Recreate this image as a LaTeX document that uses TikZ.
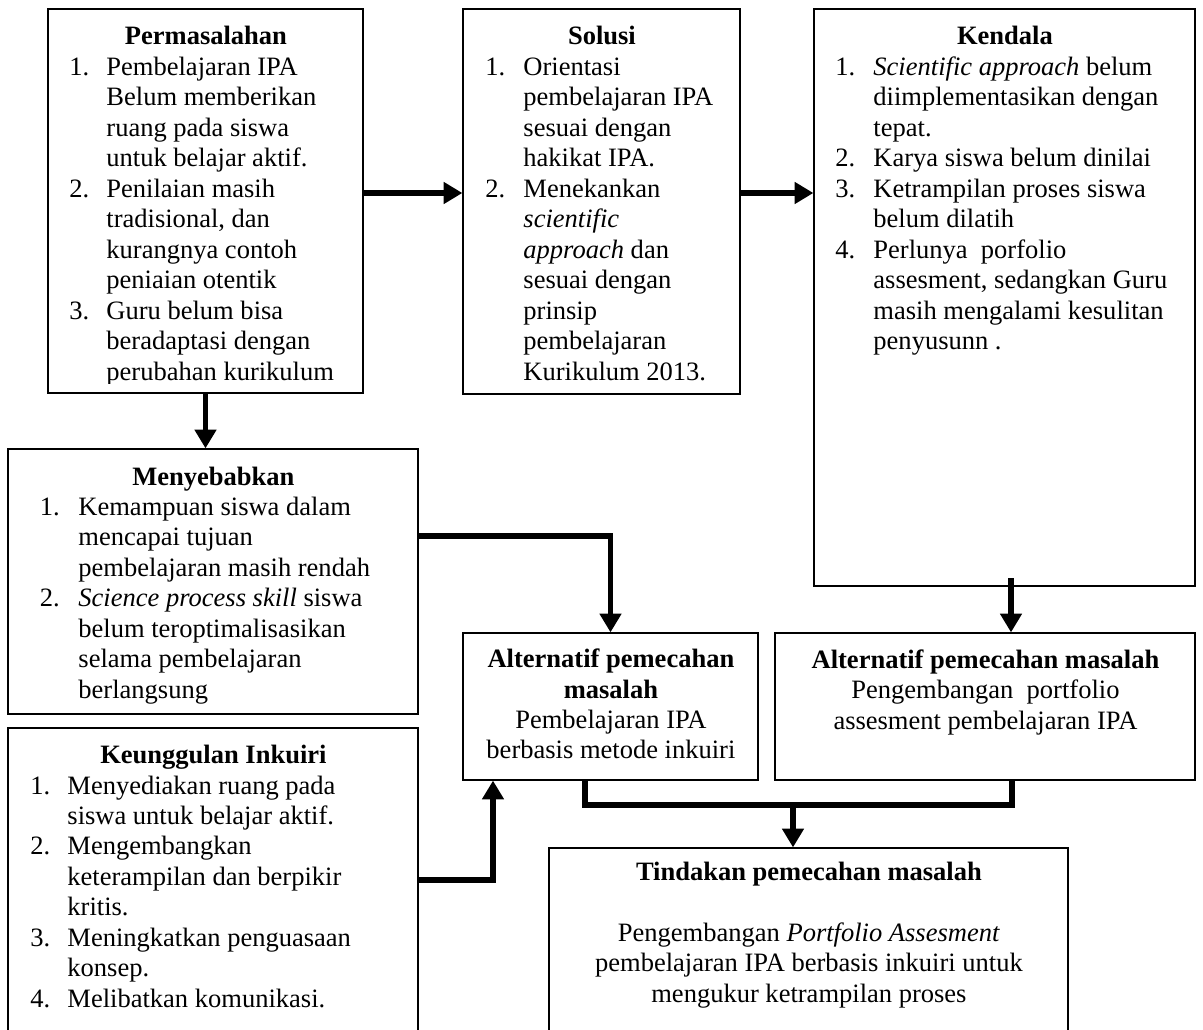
\documentclass[tikz,border=0pt]{standalone}
\usepackage{fontspec}
\setmainfont{Liberation Serif}
\usetikzlibrary{arrows.meta,fit,calc}

% one drawing unit = one pixel of the layout grid
\newlength\pxu \setlength\pxu{0.4525pt}
\newlength\numx \newlength\txtx
% numbered line, continuation line and centred bold heading
\newcommand\numln[2]{\hspace*{\numx}\makebox[\dimexpr\txtx-\numx\relax][l]{#1}#2\par}
\newcommand\conln[1]{\hspace*{\txtx}#1\par}
\newcommand\headln[1]{\makebox[\linewidth]{\bfseries #1}\par}

\tikzset{
  frame/.style={draw=black, line width=0.55pt, inner sep=0pt},
  body/.style={anchor=base west, inner sep=0pt, font=\fontsize{12}{13.8}\selectfont},
  link/.style={line width=2.7pt, line join=miter, -{Triangle[width=9.5pt,length=8.5pt]}},
  plainlink/.style={line width=2.7pt, line join=miter},
}

\begin{document}
\begin{tikzpicture}[x=0.4525pt, y=-0.4525pt]
\useasboundingbox (0,0) rectangle (1203,1030);
\clip (0,0) rectangle (1203,1030);

% ---- boxes ----
\node[frame, fit={(48,9) (363,393)}]    (perm) {};
\node[frame, fit={(463,9) (740,394)}]   (sol)  {};
\node[frame, fit={(814,9) (1195,586)}]  (kend) {};
\node[frame, fit={(8,449) (418,714)}]   (meny) {};
\node[frame, fit={(8,728) (418,1045)}]  (keun) {};
\node[frame, fit={(463,633) (758,780)}] (altL) {};
\node[frame, fit={(775,633) (1195,780)}] (altR) {};
\node[frame, fit={(549,848) (1068,1045)}] (tind) {};

% ---- texts ----
\begin{scope}
\clip (48,9) rectangle (363,383);
\node[body] (permT) at (48,45) {\parbox[t]{315\pxu}{%
  \setlength\numx{21\pxu}\setlength\txtx{58\pxu}%
  \headln{Permasalahan}
  \numln{1.}{Pembelajaran IPA}
  \conln{Belum memberikan}
  \conln{ruang pada siswa}
  \conln{untuk belajar aktif.}
  \numln{2.}{Penilaian masih}
  \conln{tradisional, dan}
  \conln{kurangnya contoh}
  \conln{peniaian otentik}
  \numln{3.}{Guru belum bisa}
  \conln{beradaptasi dengan}
  \conln{perubahan kurikulum}}};
\end{scope}

\node[body] (solT) at (463,45) {\parbox[t]{277\pxu}{%
  \setlength\numx{22\pxu}\setlength\txtx{60\pxu}%
  \headln{Solusi}
  \numln{1.}{Orientasi}
  \conln{pembelajaran IPA}
  \conln{sesuai dengan}
  \conln{hakikat IPA.}
  \numln{2.}{Menekankan}
  \conln{\textit{scientific}}
  \conln{\textit{approach} dan}
  \conln{sesuai dengan}
  \conln{prinsip}
  \conln{pembelajaran}
  \conln{Kurikulum 2013.}}};

\node[body] (kendT) at (814,45) {\parbox[t]{381\pxu}{%
  \setlength\numx{21\pxu}\setlength\txtx{59\pxu}%
  \headln{Kendala}
  \numln{1.}{\textit{Scientific approach} belum}
  \conln{diimplementasikan dengan}
  \conln{tepat.}
  \numln{2.}{Karya siswa belum dinilai}
  \numln{3.}{Ketrampilan proses siswa}
  \conln{belum dilatih}
  \numln{4.}{Perlunya~\ porfolio}
  \conln{assesment, sedangkan Guru}
  \conln{masih mengalami kesulitan}
  \conln{penyusunn .}}};

\node[body] (menyT) at (8,485) {\parbox[t]{410\pxu}{%
  \setlength\numx{31.5\pxu}\setlength\txtx{70\pxu}%
  \headln{Menyebabkan}
  \numln{1.}{Kemampuan siswa dalam}
  \conln{mencapai tujuan}
  \conln{pembelajaran masih rendah}
  \numln{2.}{\textit{Science process skill} siswa}
  \conln{belum teroptimalisasikan}
  \conln{selama pembelajaran}
  \conln{berlangsung}}};

\node[body] (keunT) at (8,763.5) {\parbox[t]{410\pxu}{%
  \setlength\numx{22\pxu}\setlength\txtx{59\pxu}%
  \headln{Keunggulan Inkuiri}
  \numln{1.}{Menyediakan ruang pada}
  \conln{siswa untuk belajar aktif.}
  \numln{2.}{Mengembangkan}
  \conln{keterampilan dan berpikir}
  \conln{kritis.}
  \numln{3.}{Meningkatkan penguasaan}
  \conln{konsep.}
  \numln{4.}{Melibatkan komunikasi.}}};

\node[body] (altLT) at (463,667.5) {\parbox[t]{295\pxu}{\centering
  \textbf{Alternatif pemecahan}\\
  \textbf{masalah}\\
  Pembelajaran IPA\\
  berbasis metode inkuiri}};

\node[body] (altRT) at (775,668) {\parbox[t]{420\pxu}{\centering
  \textbf{Alternatif pemecahan masalah}\\
  Pengembangan~\ portfolio\\
  assesment pembelajaran IPA}};

\node[body] (tindT) at (549,880) {\parbox[t]{519\pxu}{\centering
  \textbf{Tindakan pemecahan masalah}\\
  \mbox{}\\
  Pengembangan \textit{Portfolio Assesment}\\
  pembelajaran IPA berbasis inkuiri untuk\\
  mengukur ketrampilan proses}};

% ---- connectors ----
\coordinate (rowA) at (0,193);
\draw[link] (perm.east |- rowA) -- (sol.west |- rowA);
\draw[link] (sol.east |- rowA) -- (kend.west |- rowA);
\draw[link] (perm.south) -- (perm.south |- meny.north);

\coordinate (rowB) at (0,536);
\draw[link] (meny.east |- rowB) -| (altL.north);

\coordinate (kendOut) at (1011,578);
\draw[link] (kendOut) -- (kendOut |- altR.north);

\coordinate (rowC) at (493,880);
\draw[link] (keun.east |- rowC) -| (altL.south -| rowC);

\coordinate (joinL) at (585,805);
\coordinate (joinR) at (1012,805);
\coordinate (drop) at (793,805);
\draw[plainlink] (altL.south -| joinL) -- (joinL) -- (joinR) -- (altR.south -| joinR);
\draw[link] (drop) -- (drop |- tind.north);
\end{tikzpicture}
\end{document}
